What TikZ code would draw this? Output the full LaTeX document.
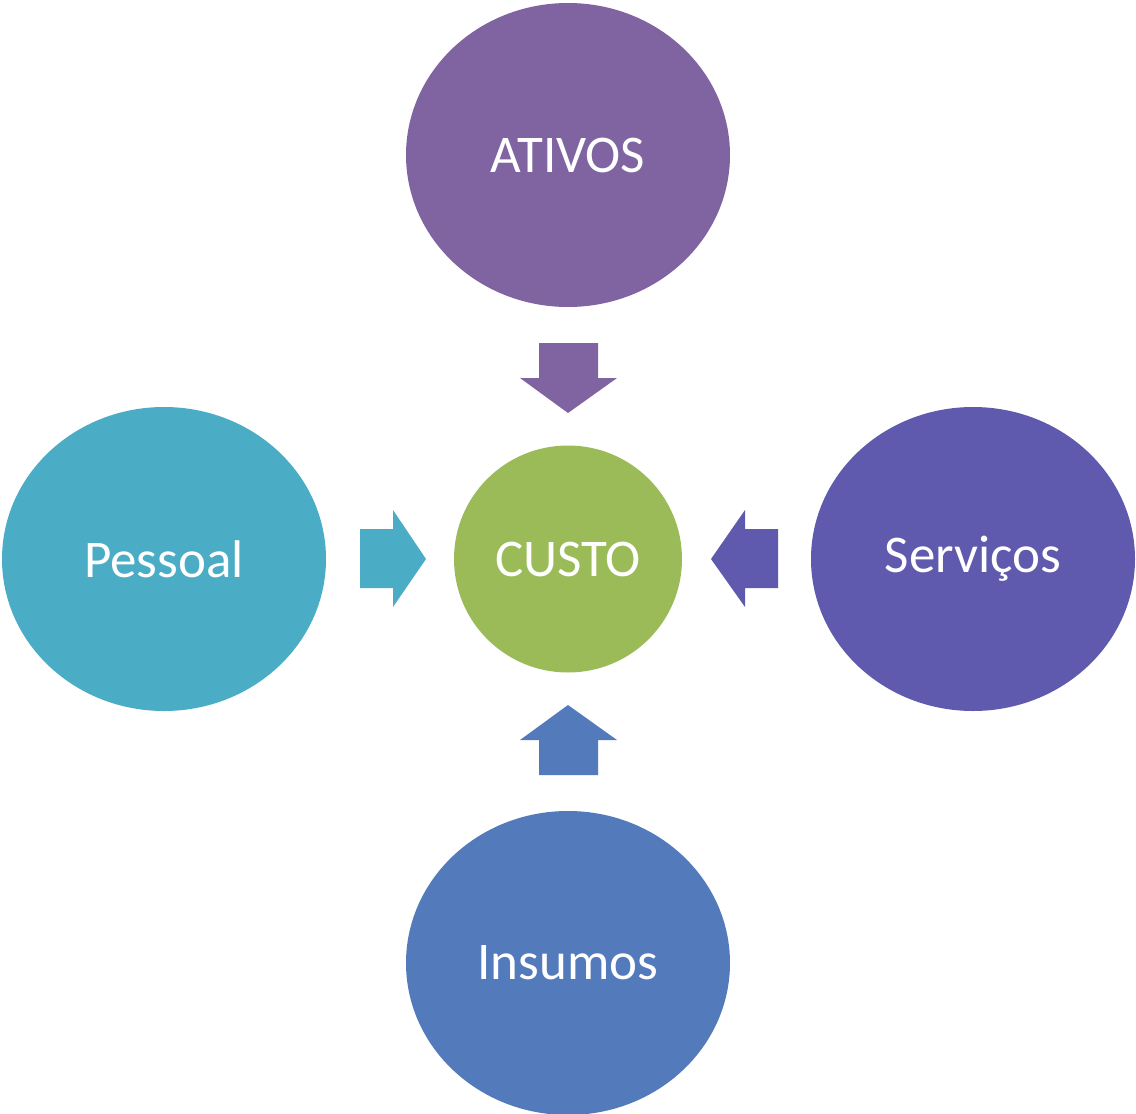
\documentclass[tikz,border=0pt]{standalone}
\usepackage{fontspec}
\setmainfont{Carlito}
\definecolor{cAtivos}{HTML}{8064A2}
\definecolor{cPessoal}{HTML}{4BACC6}
\definecolor{cServ}{HTML}{5F5AAE}
\definecolor{cIns}{HTML}{537BBB}
\definecolor{cCusto}{HTML}{9BBB59}
\tikzset{
  blob/.style={ellipse, minimum width=324pt, minimum height=304pt, inner sep=0pt, text=white, font=\fontsize{53}{63}\selectfont},
}
\usetikzlibrary{shapes.geometric}
\begin{document}
\begin{tikzpicture}[x=1pt,y=-1pt]
\useasboundingbox (0,0) rectangle (1136,1114);
\node[blob, fill=cAtivos] (ativos) at (568,155) {ATIVOS};
\node[blob, fill=cPessoal] (pessoal) at (164,559) {Pessoal};
\node[blob, fill=cServ] (serv) at (973,559) {Serviços};
\node[blob, fill=cIns] (ins) at (568,963) {Insumos};
\node[blob, fill=cCusto, minimum width=228pt, minimum height=227pt] (custo) at (568,559) {CUSTO};
% block arrows
\fill[cAtivos] (539,343) -- (598,343) -- (598,378) -- (617,378) -- (568,413) -- (520,378) -- (539,378) -- cycle;
\fill[cIns] (539,775) -- (598,775) -- (598,740) -- (617,740) -- (568,705) -- (520,740) -- (539,740) -- cycle;
\fill[cPessoal] (360,529) -- (393,529) -- (393,510) -- (426,559) -- (393,607) -- (393,588) -- (360,588) -- cycle;
\fill[cServ] (778,529) -- (745,529) -- (745,510) -- (711,559) -- (745,607) -- (745,588) -- (778,588) -- cycle;
\end{tikzpicture}
\end{document}
